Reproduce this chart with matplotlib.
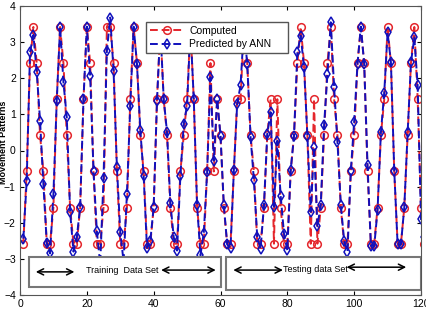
import numpy as np
import matplotlib
matplotlib.use("Agg")
import matplotlib.pyplot as plt
from matplotlib.patches import Rectangle

# sample index (1..121), axis shown 0..120
x = np.arange(1, 122)

computed = [
    -2.58, -0.58, 2.42, 3.42, 2.42, 0.42, -0.58, -2.58, -2.58, -1.58,
    1.42, 3.42, 2.42, 0.42, -1.58, -2.58, -2.58, -1.58, 1.42, 3.42,
    2.42, -0.58, -2.58, -2.58, -1.58, 3.42, 3.42, 2.42, -0.58, -2.58,
    -2.58, -1.58, 1.42, 3.42, 2.42, 0.42, -0.58, -2.58, -2.58, -1.58,
    1.42, 3.42, 1.42, 0.42, -1.58, -2.58, -2.58, -0.58, 0.42, 1.42,
    3.42, 1.42, -1.58, -2.58, -2.58, -0.58, 2.42, -0.58, 1.42, 0.42,
    -1.58, -2.58, -2.58, -0.58, 1.42, 1.42, 3.42, 2.42, 0.42, -0.58,
    -2.58, -2.58, -1.58, 0.42, 1.42, -2.58, 1.42, -1.58, -2.58, -2.58,
    -0.58, 0.42, 2.42, 3.42, 2.42, 0.42, -2.58, 1.42, -2.58, -1.58,
    0.42, 2.42, 3.42, 1.42, 0.42, -1.58, -2.58, -2.58, -0.58, 0.42,
    2.42, 3.42, 2.42, -0.58, -2.58, -2.58, -1.58, 0.42, 1.42, 3.42,
    2.42, -0.58, -2.58, -2.58, -1.58, 0.42, 2.42, 3.42, 1.42, -1.58,
    -2.58,
]

predicted = [
    -2.44, -0.85, 2.72, 3.20, 2.18, 0.83, -0.94, -2.55, -2.85, -1.20,
    1.38, 3.43, 1.89, 0.92, -1.70, -2.80, -2.40, -1.57, 1.43, 3.43,
    2.07, -0.57, -2.23, -3.15, -0.75, 2.76, 3.68, 2.20, -0.46, -2.25,
    -3.08, -1.20, 1.24, 3.43, 2.40, 0.57, -0.70, -2.70, -2.50, -1.57,
    1.38, 3.40, 1.43, 0.50, -1.45, -2.40, -2.77, -0.70, 0.74, 1.24,
    3.40, 1.43, -1.52, -2.90, -2.27, -0.60, 2.03, -0.28, 1.43, 0.41,
    -1.52, -2.60, -2.70, -0.55, 1.30, 1.80, 3.40, 2.40, 0.37, -0.83,
    -2.40, -2.72, -1.52, 0.46, 1.06, -1.56, 0.27, -1.25, -2.30, -2.76,
    -0.55, 0.41, 2.72, 3.18, 2.30, 0.41, -1.70, 0.10, -2.10, -1.50,
    0.71, 2.11, 3.55, 1.75, 0.23, -1.50, -2.50, -2.80, -0.57, 0.80,
    2.40, 3.43, 2.40, -0.40, -2.63, -2.65, -1.65, 0.50, 1.60, 3.27,
    2.44, -0.57, -2.60, -2.60, -1.57, 0.50, 2.44, 3.13, 1.80, -1.90,
    -2.40,
]

xticks = [0, 20, 40, 60, 80, 100, 120]
yticks = [-4, -3, -2, -1, 0, 1, 2, 3, 4]

plt.rcParams['font.family'] = ['Liberation Sans', 'DejaVu Sans']

fig = plt.figure(figsize=(4.26, 3.11), dpi=100)
ax = fig.add_axes([20 / 426, 16 / 311, 401 / 426, 289 / 311])

red = '#e4262c'
blue = '#1010bc'
ax.plot(x, computed, '--', color=red, lw=1.4, marker='o', ms=5.5,
        mfc='none', mec=red, mew=1.1, dashes=(4, 2), label='Computed')
ax.plot(x, predicted, '--', color=blue, lw=1.4, marker='d', ms=5.5,
        mfc='none', mec=blue, mew=1.1, dashes=(4, 2), label='Predicted by ANN')

ax.set_xlim(0, 120)
ax.set_ylim(-4, 4)
ax.set_xticks(xticks)
ax.set_yticks(yticks)
ax.tick_params(direction='in', top=True, right=True, labelsize=7.5,
               length=3, pad=3)
ax.set_ylabel('Movement Patterns', fontsize=6.5, fontweight='bold')
ax.yaxis.set_label_coords(-0.031, 0.53)
for s in ax.spines.values():
    s.set_color('#555555')

# data set boxes
ax.add_patch(Rectangle((2.7, -3.78), 57.3, 0.82, facecolor='white',
                       edgecolor='#777777', lw=1.5, zorder=2.5))
ax.add_patch(Rectangle((61.5, -3.87), 58.5, 0.91, facecolor='white',
                       edgecolor='#777777', lw=1.5, zorder=2.5))

arrows = [((3.9, -3.36), (17.1, -3.36)), ((41.4, -3.31), (59.4, -3.31)),
          ((63.0, -3.31), (79.5, -3.31)), ((96.9, -3.23), (116.4, -3.23))]
for a, b in arrows:
    ax.annotate('', xy=a, xytext=b,
                arrowprops=dict(arrowstyle='<->', color='black', lw=1.1,
                                mutation_scale=11))

ax.text(30.6, -3.33, 'Training  Data Set', ha='center', va='center', fontsize=6.5)
ax.text(88.5, -3.3, 'Testing data Set', ha='center', va='center', fontsize=6.5)

leg = ax.legend(loc='lower left', bbox_to_anchor=(0.314, 0.837, 0.354, 0.142),
                mode='expand', fancybox=False, framealpha=1, edgecolor='#555555',
                prop={'size': 7.5}, handlelength=3.4,
                numpoints=1, borderaxespad=0, labelspacing=0.35,
                borderpad=0.35, handletextpad=0.4)
leg.get_frame().set_linewidth(1.0)

fig.savefig('out.png', dpi=100)
